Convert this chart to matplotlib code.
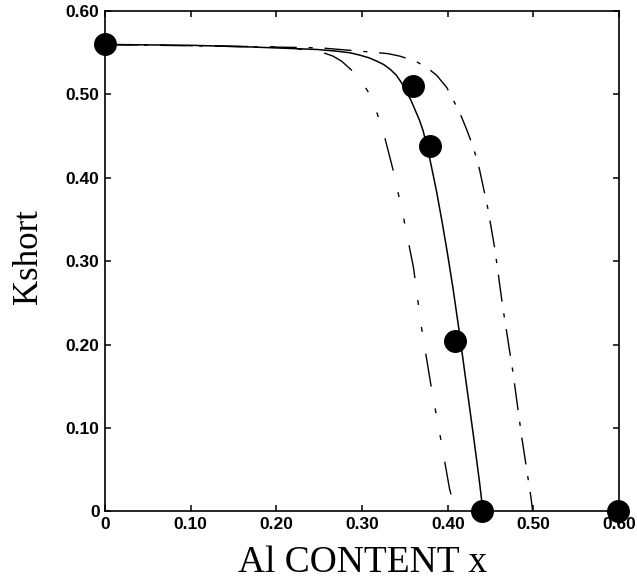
import matplotlib
matplotlib.use('Agg')
import matplotlib.pyplot as plt

# measured points
pts_x = [0.0, 0.359, 0.379, 0.408, 0.440, 0.599]
pts_y = [0.560, 0.510, 0.438, 0.204, 0.0, 0.0]

# solid curve
solid_x = [0.0, 0.10, 0.17, 0.247, 0.27, 0.286, 0.298, 0.308, 0.317, 0.325, 0.333, 0.340, 0.346,
           0.352, 0.357, 0.362, 0.367, 0.371, 0.376, 0.381, 0.387, 0.393, 0.399, 0.406, 0.413,
           0.420, 0.430, 0.437, 0.441]
solid_y = [0.560, 0.559, 0.557, 0.554, 0.552, 0.550, 0.547, 0.544, 0.540, 0.536, 0.530, 0.523, 0.514,
           0.503, 0.493, 0.481, 0.469, 0.457, 0.437, 0.413, 0.383, 0.349, 0.313, 0.268, 0.218,
           0.165, 0.090, 0.035, 0.0]

# left dash-dot-dot curve
left_x = [0.0, 0.20, 0.24, 0.255, 0.266, 0.276, 0.289, 0.301, 0.309, 0.315, 0.325, 0.336, 0.348,
          0.360, 0.369, 0.381, 0.391, 0.402, 0.409]
left_y = [0.560, 0.557, 0.553, 0.550, 0.546, 0.540, 0.528, 0.513, 0.500, 0.485, 0.454, 0.410, 0.354,
          0.292, 0.222, 0.147, 0.091, 0.027, 0.0]

# right dash-dot curve
right_x = [0.0, 0.25, 0.309, 0.330, 0.344, 0.356, 0.364, 0.376, 0.387, 0.399, 0.406, 0.414, 0.422,
           0.430, 0.437, 0.447, 0.455, 0.464, 0.476, 0.486, 0.497, 0.499]
right_y = [0.560, 0.556, 0.551, 0.549, 0.546, 0.542, 0.539, 0.532, 0.523, 0.508, 0.494, 0.478, 0.458,
           0.436, 0.410, 0.362, 0.314, 0.246, 0.167, 0.091, 0.017, 0.0]

ticks = [0.0, 0.10, 0.20, 0.30, 0.40, 0.50, 0.60]
tick_labels = ['0', '0.10', '0.20', '0.30', '0.40', '0.50', '0.60']

fig = plt.figure(figsize=(6.37, 5.85), dpi=100)
ax = fig.add_axes([0.165, 0.126, 0.807, 0.855])

ax.plot(solid_x, solid_y, color='black', lw=1.1)
ax.plot(left_x, left_y, color='black', lw=1.0, linestyle=(0, (24, 16, 3.5, 16, 3.5, 16)))
ax.plot(right_x, right_y, color='black', lw=1.0, linestyle=(0, (19.5, 8.5, 3, 8.5)))
ax.plot(pts_x, pts_y, 'o', color='black', markersize=15.5, clip_on=False, zorder=5)

ax.set_xlim(0, 0.60)
ax.set_ylim(0, 0.60)
ax.set_xticks(ticks)
ax.set_xticklabels(tick_labels)
ax.set_yticks(ticks)
ax.set_yticklabels(tick_labels)
ax.tick_params(direction='in', length=4.5, width=1.1, top=True, right=True,
               labelsize=12.5, pad=4)
for lab in ax.get_xticklabels() + ax.get_yticklabels():
    lab.set_fontfamily('Liberation Sans')
    lab.set_fontweight('bold')
for sp in ax.spines.values():
    sp.set_linewidth(1.2)

ax.set_xlabel('Al CONTENT x', fontfamily='Liberation Serif', fontsize=27, labelpad=10)
ax.set_ylabel('Kshort', fontfamily='Liberation Serif', fontsize=25)
ax.yaxis.set_label_coords(-0.116, 0.51)

fig.savefig('out.png', dpi=100)
